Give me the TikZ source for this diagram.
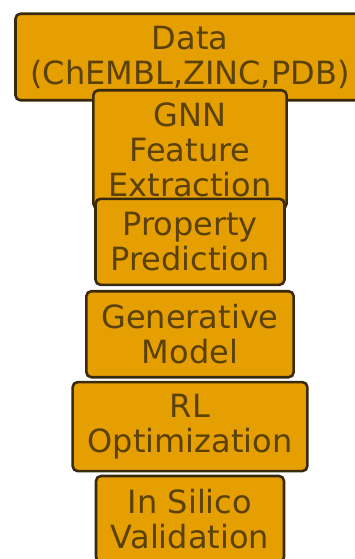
\documentclass[tikz,border=0pt]{standalone}
\usepackage{fontspec}
\setmainfont{DejaVu Sans}
\usepackage{tikz}
\usetikzlibrary{calc}
\definecolor{stagefill}{HTML}{E69F00}
\definecolor{stageedge}{HTML}{3A2A0C}
\definecolor{stagetext}{HTML}{5A410A}

\begin{document}
\begin{tikzpicture}[node distance=92.4pt,
  stage/.style={draw=stageedge, line width=2.6pt, fill=stagefill, text=stagetext,
    rounded corners=5pt, align=center, inner xsep=15pt, inner ysep=12pt,
    minimum height=86pt, font=\fontsize{32}{35}\selectfont}]
\useasboundingbox (0,0) rectangle (355pt,-559pt);

\node[stage, name=data] at (190pt,-57pt) {Data\\(ChEMBL,ZINC,PDB)};
\node[stage, name=gnn, below of=data] {GNN\\Feature\\Extraction};
\node[stage, name=prop, below of=gnn] {Property\\Prediction};
\node[stage, name=gen, below of=prop] {Generative\\Model};
\node[stage, name=rl, below of=gen] {RL\\Optimization};
\node[stage, name=valid, below of=rl] {In Silico\\Validation};

\end{tikzpicture}
\end{document}
